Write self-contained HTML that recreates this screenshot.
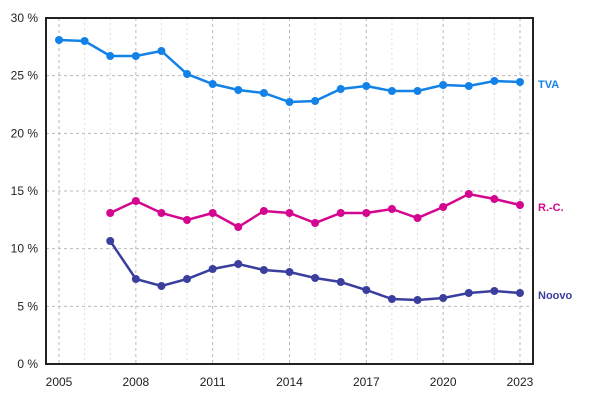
<!DOCTYPE html><html><head><style>body{margin:0;background:#fff}svg{display:block}text{font-family:"Liberation Sans",sans-serif;font-size:12px;fill:#222}</style></head><body>
<svg width="600" height="400" viewBox="0 0 600 400" id="s"></svg>
<script>
const s=document.getElementById('s');let h='';
const X=y=>59+(y-2005)*25.61, Y=v=>364-v*11.533;
for(let y=2005;y<=2023;y++){const maj=(y-2005)%3==0;h+=`<line x1="${X(y)}" y1="18" x2="${X(y)}" y2="364" stroke="${maj?'#bbb':'#ddd'}" stroke-dasharray="${maj?'3,3':'2,3'}"/>`;
if(maj)h+=`<text x="${X(y)}" y="386" text-anchor="middle">${y}</text>`;}
for(let v=0;v<=30;v+=5){h+=`<line x1="46" y1="${Y(v)}" x2="533" y2="${Y(v)}" stroke="#bbb" stroke-dasharray="3,3"/><text x="38" y="${Y(v)+4}" text-anchor="end">${v} %</text>`;}
h+=`<rect x="46" y="18" width="487" height="346" fill="none" stroke="#222" stroke-width="2"/>`;
const ser=[['#1282e8',2005,[40,41,56,56,51,74,84,90,93,102,101,89,86,91,91,85,86,81,82],'TVA'],
['#d4068f',2007,[213,201,213,220,213,227,211,213,223,213,213,209,218,207,194,199,205],'R.-C.'],
['#3a3f9e',2007,[241,279,286,279,269,264,270,272,278,282,290,299,300,298,293,291,293],'Noovo']];
for(const [c,s0,d,n] of ser){h+=`<polyline fill="none" stroke="${c}" stroke-width="2.5" points="${d.map((v,i)=>X(s0+i)+','+v).join(' ')}"/>`;
d.forEach((v,i)=>h+=`<circle cx="${X(s0+i)}" cy="${v}" r="4" fill="${c}"/>`);
h+=`<text x="538" y="${d[d.length-1]+6}" style="fill:${c};font-weight:bold;font-size:11px">${n}</text>`;}
s.innerHTML=h;
</script></body></html>
